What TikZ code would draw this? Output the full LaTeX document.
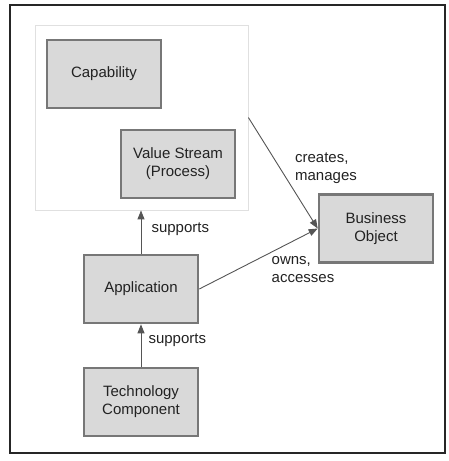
\documentclass[tikz,border=0pt]{standalone}
\usepackage{fontspec}
\setmainfont{Liberation Sans}
\usepackage{xcolor}
\usetikzlibrary{positioning,arrows.meta,shapes,calc}
\definecolor{boxfill}{HTML}{D9D9D9}
\definecolor{boxline}{HTML}{777777}
\definecolor{arrowgray}{HTML}{555555}
\definecolor{txtgray}{HTML}{222222}

\begin{document}
\begin{tikzpicture}[x=1pt, y=-1pt,
    entity/.style={rectangle, draw=boxline, line width=2.6pt, fill=boxfill, minimum width=114pt, minimum height=68pt, align=center, font=\fontsize{15}{18}\selectfont, text=txtgray},
    rel/.style={-{Triangle[length=9pt, width=7pt]}, draw=arrowgray, line width=0.9pt},
    lbl/.style={font=\fontsize{15}{18}\selectfont, text=txtgray, align=left}
]
\useasboundingbox (0,0) rectangle (449,461);

% Frame
\draw[line width=1.5pt, draw=black!85] (10,5) rectangle (445,453);

% Business layer group
\node[rectangle, draw=black!12, line width=0.8pt, minimum width=213pt, minimum height=185pt] (group) at (141.5,117.5) {};

% Entities
\node[entity] (cap) at (104,74) {Capability};
\node[entity] (vs) at (178,164) {Value Stream\\(Process)};
\node[entity] (bo) at (376,228.5) {Business\\Object};
\node[entity] (app) at (141,289) {Application};
\node[entity] (tech) at (141,402) {Technology\\Component};

% Relations
\draw[rel] (app.north) -- (app.north |- group.south);
\draw[rel] (tech.north) -- (app.south);
\draw[rel] (group.east) -- (bo.west);
\draw[rel] (app.east) -- (bo.west);

% Labels
\node[lbl, anchor=west] (sup1) at (148,229) {supports};
\node[lbl, anchor=west] (sup2) at (145,340) {supports};
\node[lbl] (cm) at (326,168) {creates,\\manages};
\node[lbl] (oa) at (303,270) {owns,\\accesses};

\end{tikzpicture}
\end{document}
